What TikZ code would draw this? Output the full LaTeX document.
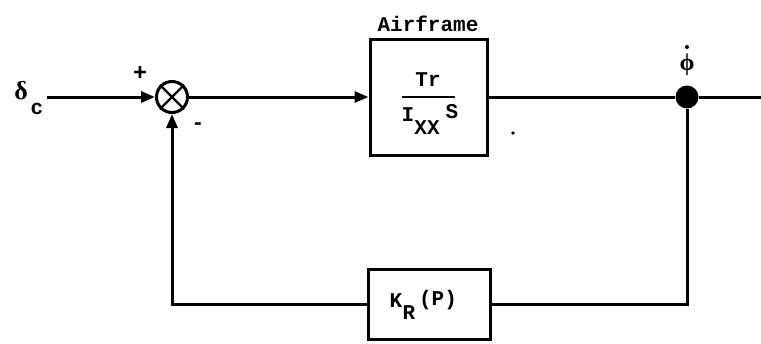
\documentclass[tikz,border=0pt]{standalone}
\usepackage{fontspec}
\setmainfont{Liberation Mono}
\newfontfamily\grk{Liberation Serif}
\usetikzlibrary{arrows.meta}
\begin{document}
\begin{tikzpicture}[x=1pt,y=-1pt,
  blk/.style={draw,line width=3pt,inner sep=0pt},
  sig/.style={line width=3pt},
  arr/.style={sig,-{Triangle[length=14pt,width=11pt]}},
  lbl/.style={font=\bfseries\fontsize{21}{24}\selectfont,inner sep=0pt}]
\useasboundingbox (0,0) rectangle (761,343);
\node[circle,draw,line width=3pt,minimum size=31pt,inner sep=0pt] (sum) at (172,97) {};
\draw[line width=2.2pt] (sum.north west) -- (sum.south east) (sum.north east) -- (sum.south west);
\node[blk,minimum width=117pt,minimum height=116pt] (air) at (428.5,97) {};
\node[lbl] (tr) at (428,80) {Tr};
\draw[line width=2.4pt] (402,97) -- (455,97);
\node[lbl] (ii) at (408,115) {I};
\node[lbl] (xx) at (427,128) {XX};
\node[lbl] (ss) at (452,112) {S};
\node[lbl] (tit) at (428,24) {Airframe};
\node[circle,fill,minimum size=23pt,inner sep=0pt] (dot) at (687,97) {};
\node[font=\grk\bfseries\fontsize{24}{26}\selectfont,inner sep=0pt] (phi) at (687,65) {ϕ};
\fill (687,47) circle (2pt);
\node[blk,minimum width=122pt,minimum height=70pt] (kr) at (429.5,304) {};
\node[lbl] (k) at (396,301) {K};
\node[lbl] (r) at (409,313) {R};
\node[lbl] (p) at (438,300) {(P)};
\coordinate (in) at (47,97);
\coordinate (out) at (761,97);
\coordinate (fl) at (172,304);
\coordinate (fr) at (687,304);
\node[font=\grk\bfseries\fontsize{26}{28}\selectfont,inner sep=0pt] (dl) at (21,91) {δ};
\node[lbl] (c) at (37,109) {c};
\node[font=\bfseries\fontsize{24}{26}\selectfont,inner sep=0pt] (pl) at (140,73) {+};
\node[lbl] (mi) at (198,126) {-};
\draw[arr] (in) -- (sum.west);
\draw[arr] (sum.east) -- (air.west);
\draw[sig] (air.east) -- (dot) -- (out);
\draw[sig] (dot) -- (fr) -- (kr.east);
\draw[arr] (kr.west) -- (fl) -- (sum.south);
\fill (513,133) circle (1.8pt);
\end{tikzpicture}
\end{document}
